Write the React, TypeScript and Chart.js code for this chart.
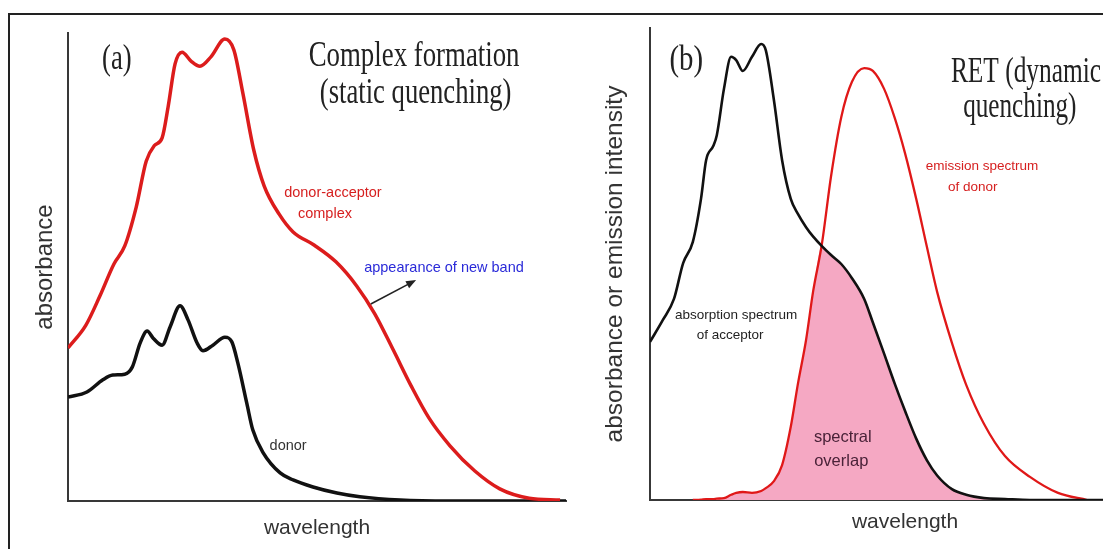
import React, { useEffect, useRef } from "react";
import { Chart, registerables } from "chart.js";

Chart.register(...registerables);

// ---------- Panel (a): complex formation (static quenching) ----------
const aComplexX = [0, 3.6, 6.4, 9.2, 11.4, 13.7, 15.7, 17.3, 18.9, 20.1, 21.5, 22.9, 24.7, 26.5, 28.7, 31.5, 33.3, 35.1, 37.3, 39.4, 42.4, 45.2, 49.4, 53.8, 58.0, 61.6, 65.3, 68.9, 72.5, 76.7, 81.7, 86.7, 92.6, 98.8];
const aComplexY = [32.7, 37.6, 43.8, 50.6, 54.5, 62.8, 72.6, 75.9, 77.6, 84.2, 93.4, 95.9, 94.0, 92.9, 94.9, 98.7, 96.4, 87.2, 75.0, 67.3, 61.3, 57.5, 54.7, 51.1, 45.9, 40.0, 32.3, 24.6, 17.7, 11.8, 6.4, 2.6, 0.6, 0.2];

const aDonorX = [0, 3.8, 7.0, 9.0, 11.4, 12.9, 14.5, 15.9, 17.1, 18.9, 20.5, 22.5, 24.1, 25.9, 27.1, 29.1, 31.5, 32.9, 34.1, 35.9, 37.1, 39.2, 42.6, 45.2, 49.2, 54.0, 58.6, 66.7, 76.7, 100];
const aDonorY = [22.2, 23.3, 25.9, 26.9, 27.1, 28.6, 33.8, 36.3, 34.8, 33.3, 37.2, 41.7, 38.7, 33.8, 32.1, 33.3, 35.0, 34.0, 29.5, 20.9, 15.2, 10.3, 6.0, 4.5, 3.0, 1.7, 0.9, 0.2, 0, 0];

// ---------- Panel (b): RET (dynamic quenching) ----------
const bWavelength = [0, 2.5, 4.7, 6.5, 8.4, 10.0, 11.0, 12.4, 13.1, 14.5, 15.9, 16.9, 18.2, 20.0, 21.8, 22.7, 24.3, 25.9, 27.6, 29.0, 30.6, 32.0, 33.7, 35.5, 37.5, 39.6, 42.0, 43.7, 45.9, 48.0, 50.0, 52.2, 54.3, 56.3, 59.2, 62.0, 65.5, 69.6, 74.5, 80.0, 85.7, 90.2, 100];
const bAcceptorAbs = [33.5, 38.1, 42.6, 50.2, 54.7, 63.8, 72.0, 75.0, 77.3, 87.1, 93.9, 93.2, 90.9, 93.9, 96.6, 95.3, 84.7, 72.0, 63.8, 60.6, 57.8, 55.8, 53.8, 51.9, 50.0, 47.0, 42.6, 37.6, 31.0, 24.6, 18.9, 13.0, 8.4, 5.2, 2.3, 1.1, 0.4, 0.2, 0, 0, 0, 0, 0];
const bDonorEm: (number | null)[] = [null, null, null, null, 0, 0.1, 0.2, 0.2, 0.3, 0.4, 1.1, 1.5, 1.7, 1.5, 1.9, 2.5, 4.0, 7.4, 15.5, 24.6, 33.9, 44.3, 54.2, 68.6, 81.1, 88.6, 91.5, 90.9, 87.1, 80.9, 73.5, 63.8, 53.6, 44.1, 33.3, 24.4, 16.1, 9.3, 4.9, 1.5, 0, null, null];

const SANS = '"Liberation Sans", Arial, sans-serif';
const SERIF = '"Liberation Serif", "Times New Roman", serif';

type Note = {
  text: string;
  x: number;
  y: number;
  size: number;
  color: string;
  family: string;
  align?: CanvasTextAlign;
  baseline?: CanvasTextBaseline;
  sx?: number;
};
type Arrow = { x1: number; y1: number; x2: number; y2: number; color: string };

const aNotes: Note[] = [
  { text: "(a)", x: 9.8, y: 92.3, size: 36, color: "#222", family: SERIF, baseline: "alphabetic", sx: 0.74 },
  { text: "Complex formation", x: 69.5, y: 93.0, size: 36, color: "#222", family: SERIF, baseline: "alphabetic", sx: 0.745 },
  { text: "(static quenching)", x: 69.8, y: 85.0, size: 36, color: "#222", family: SERIF, baseline: "alphabetic", sx: 0.74 },
  { text: "donor-acceptor", x: 53.2, y: 65.8, size: 14.5, color: "#d62020", family: SANS },
  { text: "complex", x: 51.6, y: 61.3, size: 14.5, color: "#d62020", family: SANS },
  { text: "appearance of new band", x: 75.5, y: 49.8, size: 14.5, color: "#2a2ad8", family: SANS },
  { text: "donor", x: 44.2, y: 11.8, size: 14.5, color: "#333", family: SANS },
];
const aArrows: Arrow[] = [{ x1: 60.8, y1: 42.1, x2: 69.9, y2: 47.2, color: "#222" }];

const bNotes: Note[] = [
  { text: "(b)", x: 7.1, y: 91.0, size: 36, color: "#222", family: SERIF, baseline: "alphabetic", sx: 0.8 },
  { text: "RET (dynamic", x: 59.0, y: 88.6, size: 36, color: "#222", family: SERIF, align: "left", baseline: "alphabetic", sx: 0.705 },
  { text: "quenching)", x: 61.4, y: 81.2, size: 36, color: "#222", family: SERIF, align: "left", baseline: "alphabetic", sx: 0.7 },
  { text: "emission spectrum", x: 65.1, y: 70.6, size: 13.5, color: "#d62020", family: SANS },
  { text: "of donor", x: 63.3, y: 66.3, size: 13.5, color: "#d62020", family: SANS },
  { text: "absorption spectrum", x: 16.9, y: 39.2, size: 13.5, color: "#222", family: SANS },
  { text: "of acceptor", x: 15.7, y: 35.0, size: 13.5, color: "#222", family: SANS },
  { text: "spectral", x: 37.8, y: 13.3, size: 16.5, color: "#4a2238", family: SANS },
  { text: "overlap", x: 37.5, y: 8.1, size: 16.5, color: "#4a2238", family: SANS },
];

function makeNotesPlugin(notes: Note[], arrows: Arrow[]) {
  return {
    id: "notes",
    afterDatasetsDraw(chart: any) {
      const { ctx } = chart;
      const xs = chart.scales.x;
      const ys = chart.scales.y;
      for (const a of arrows) {
        const x1 = xs.getPixelForValue(a.x1);
        const y1 = ys.getPixelForValue(a.y1);
        const x2 = xs.getPixelForValue(a.x2);
        const y2 = ys.getPixelForValue(a.y2);
        const ang = Math.atan2(y2 - y1, x2 - x1);
        ctx.save();
        ctx.strokeStyle = a.color;
        ctx.fillStyle = a.color;
        ctx.lineWidth = 1.6;
        ctx.beginPath();
        ctx.moveTo(x1, y1);
        ctx.lineTo(x2 - 6 * Math.cos(ang), y2 - 6 * Math.sin(ang));
        ctx.stroke();
        ctx.beginPath();
        ctx.moveTo(x2, y2);
        ctx.lineTo(x2 - 10 * Math.cos(ang) + 4 * Math.sin(ang), y2 - 10 * Math.sin(ang) - 4 * Math.cos(ang));
        ctx.lineTo(x2 - 10 * Math.cos(ang) - 4 * Math.sin(ang), y2 - 10 * Math.sin(ang) + 4 * Math.cos(ang));
        ctx.closePath();
        ctx.fill();
        ctx.restore();
      }
      for (const n of notes) {
        ctx.save();
        ctx.translate(xs.getPixelForValue(n.x), ys.getPixelForValue(n.y));
        ctx.scale(n.sx ?? 1, 1);
        ctx.font = `${n.size}px ${n.family}`;
        ctx.fillStyle = n.color;
        ctx.textAlign = n.align ?? "center";
        ctx.textBaseline = n.baseline ?? "middle";
        ctx.fillText(n.text, 0, 0);
        ctx.restore();
      }
    },
  };
}

function axisOptions(o: {
  yWidth: number;
  xHeight: number;
  yTitle: string;
  yTitleSize: number;
  yTitlePad: number;
  xTitlePadBottom: number;
}) {
  return {
    x: {
      type: "linear",
      min: 0,
      max: 100,
      ticks: { display: false },
      grid: { display: false },
      border: { display: true, color: "#383838", width: 2 },
      title: {
        display: true,
        text: "wavelength",
        color: "#333",
        font: { family: SANS, size: 21 },
        padding: { top: 0, bottom: o.xTitlePadBottom },
      },
      afterFit: (s: any) => {
        s.height = o.xHeight;
      },
    },
    y: {
      type: "linear",
      min: 0,
      max: 100,
      ticks: { display: false },
      grid: { display: false },
      border: { display: true, color: "#383838", width: 2 },
      title: {
        display: true,
        text: o.yTitle,
        color: "#333",
        font: { family: SANS, size: o.yTitleSize },
        padding: { top: o.yTitlePad, bottom: 0 },
      },
      afterFit: (s: any) => {
        s.width = o.yWidth;
      },
    },
  };
}

export default function App() {
  const refA = useRef<HTMLCanvasElement | null>(null);
  const refB = useRef<HTMLCanvasElement | null>(null);

  useEffect(() => {
    document.body.style.overflow = "hidden";
    const common = {
      responsive: false,
      maintainAspectRatio: false,
      animation: false,
      events: [],
      plugins: { legend: { display: false }, tooltip: { enabled: false } },
      elements: { point: { radius: 0 } },
    };

    const axA = axisOptions({ yWidth: 58, xHeight: 48, yTitle: "absorbance", yTitleSize: 24, yTitlePad: 21, xTitlePadBottom: 8 });
    const chartA = new Chart(refA.current as HTMLCanvasElement, {
      type: "line",
      data: {
        datasets: [
          {
            label: "donor-acceptor complex",
            data: aComplexX.map((x, i) => ({ x, y: aComplexY[i] })),
            borderColor: "#dc1c1c",
            borderWidth: 3.5,
            cubicInterpolationMode: "monotone",
            fill: false,
          },
          {
            label: "donor",
            data: aDonorX.map((x, i) => ({ x, y: aDonorY[i] })),
            borderColor: "#111",
            borderWidth: 3.5,
            cubicInterpolationMode: "monotone",
            fill: false,
          },
        ],
      },
      options: {
        ...common,
        layout: { padding: { left: 0, right: 4, top: 18, bottom: 0 } },
        scales: { x: axA.x, y: axA.y },
      } as any,
      plugins: [makeNotesPlugin(aNotes, aArrows)],
    });

    const overlap = bWavelength.map((_, i) => {
      const e = bDonorEm[i];
      return e == null ? null : Math.min(e, bAcceptorAbs[i]);
    });
    const axB = axisOptions({ yWidth: 78, xHeight: 49, yTitle: "absorbance or emission intensity", yTitleSize: 24.5, yTitlePad: 29, xTitlePadBottom: 14 });
    const chartB = new Chart(refB.current as HTMLCanvasElement, {
      type: "line",
      data: {
        datasets: [
          {
            label: "absorption spectrum of acceptor",
            data: bWavelength.map((x, i) => ({ x, y: bAcceptorAbs[i] })),
            borderColor: "#111",
            borderWidth: 2.6,
            cubicInterpolationMode: "monotone",
            fill: false,
          },
          {
            label: "emission spectrum of donor",
            data: bWavelength.map((x, i) => ({ x, y: bDonorEm[i] })),
            borderColor: "#e01818",
            borderWidth: 2.3,
            cubicInterpolationMode: "monotone",
            fill: false,
            spanGaps: false,
          },
          {
            label: "spectral overlap",
            data: bWavelength.map((x, i) => ({ x, y: overlap[i] })),
            borderWidth: 0,
            borderColor: "rgba(0,0,0,0)",
            backgroundColor: "#f5a8c3",
            cubicInterpolationMode: "monotone",
            fill: "origin",
            spanGaps: false,
          },
        ],
      },
      options: {
        ...common,
        layout: { padding: { left: 0, right: 0, top: 13, bottom: 0 } },
        scales: { x: axB.x, y: axB.y },
      } as any,
      plugins: [makeNotesPlugin(bNotes, [])],
    });

    return () => {
      chartA.destroy();
      chartB.destroy();
    };
  }, []);

  return (
    <div style={{ position: "relative", width: 1103, height: 541, overflow: "hidden", background: "#fff" }}>
      <div
        style={{
          position: "absolute",
          left: 0,
          top: 5,
          width: 1200,
          height: 700,
          borderLeft: "2px solid #222",
          borderTop: "2px solid #222",
          boxSizing: "border-box",
        }}
      />
      <canvas
        ref={refA}
        width={560}
        height={534}
        style={{ position: "absolute", left: 2, top: 7, width: 560, height: 534 }}
      />
      <canvas
        ref={refB}
        width={588}
        height={534}
        style={{ position: "absolute", left: 564, top: 7, width: 588, height: 534 }}
      />
    </div>
  );
}
